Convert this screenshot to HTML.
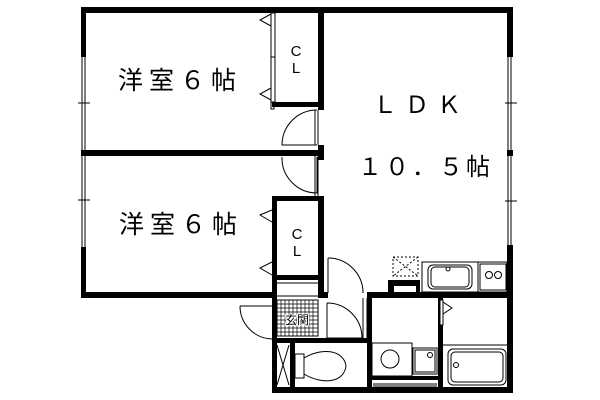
<!DOCTYPE html>
<html><head><meta charset="utf-8"><style>
html,body{margin:0;padding:0;background:#fff;}
svg{display:block}
text{font-family:"Liberation Sans","Noto Sans CJK JP",sans-serif;fill:#000}
</style></head><body>
<svg width="600" height="400" viewBox="0 0 600 400" xmlns="http://www.w3.org/2000/svg">
<g fill="#000">
<rect x="81" y="7" width="432" height="6"/>
<rect x="81" y="7" width="5" height="50"/>
<rect x="81" y="247" width="5" height="50"/>
<rect x="81" y="150" width="5" height="6"/>
<rect x="81" y="150" width="242" height="6"/>
<rect x="81" y="292" width="196" height="6"/>
<rect x="318" y="7" width="6" height="103"/>
<rect x="318" y="145" width="6" height="15"/>
<rect x="318" y="196" width="6" height="102"/>
<rect x="272" y="102" width="52" height="5"/>
<rect x="272" y="196" width="52" height="5"/>
<rect x="272" y="275" width="52" height="5"/>
<rect x="272" y="196" width="5" height="197"/>
<rect x="507" y="7" width="6" height="50"/>
<rect x="507" y="150" width="6" height="6"/>
<rect x="507" y="245" width="6" height="148"/>
<rect x="318" y="292" width="10" height="6"/>
<rect x="367" y="292" width="146" height="6"/>
<rect x="388" y="280" width="32" height="18"/>
<rect x="272" y="338" width="100" height="5"/>
<rect x="367" y="292" width="5" height="101"/>
<rect x="272" y="387" width="241" height="6"/>
<rect x="290" y="343" width="5" height="44"/>
<rect x="438" y="298" width="5" height="95"/>
<rect x="372" y="376" width="66" height="4"/>
</g>
<g fill="#fff">
<rect x="440" y="300" width="3" height="25" stroke="#000" stroke-width="1"/>
<rect x="394" y="286" width="22" height="6"/>
</g>
<g fill="none" stroke="#000" stroke-width="1">
<line x1="82" y1="57" x2="82" y2="247"/><line x1="85" y1="57" x2="85" y2="247"/>
<line x1="78" y1="103" x2="90" y2="103"/><line x1="78" y1="200" x2="90" y2="200"/>
<line x1="508" y1="57" x2="508" y2="245"/><line x1="511" y1="57" x2="511" y2="245"/>
<line x1="505" y1="103" x2="517" y2="103"/><line x1="505" y1="201" x2="517" y2="201"/>
<rect x="271" y="13" width="4" height="89"/>
<line x1="271" y1="57" x2="275" y2="57"/>
<polyline points="271,14 260,20 271,26"/>
<polyline points="271,88 260,94 271,100"/>
<rect x="271" y="102" width="3" height="7"/>
<rect x="273" y="201" width="3" height="74"/>
<polyline points="272,210 260,215 272,222"/>
<polyline points="272,262 260,268 272,275"/>
<line x1="318" y1="110" x2="318" y2="145"/><line x1="315" y1="110" x2="315" y2="145"/>
<path d="M317,110 A35,35 0 0 0 282,145 L317,145"/>
<line x1="318" y1="156" x2="318" y2="196"/><line x1="315" y1="156" x2="315" y2="196"/>
<path d="M282,157 A35,35 0 0 0 317,193 L317,157"/>
<line x1="277" y1="283" x2="318" y2="283"/>
<line x1="277" y1="296" x2="318" y2="296"/>
<line x1="328" y1="258" x2="328" y2="293"/>
<path d="M328,258 A35,35 0 0 1 363,293"/>
<line x1="367" y1="298" x2="367" y2="338"/><line x1="363" y1="298" x2="363" y2="338"/>
<path d="M327,303 A35,35 0 0 1 362,338 L327,338 L327,303"/>
<path d="M240,306 L272,306 M240,306 A33,33 0 0 0 272,339"/>
<rect x="277" y="300" width="41" height="36"/>
<path d="M281,300V336M285,300V336M289,300V336M293,300V336M297,300V336M301,300V336M305,300V336M309,300V336M313,300V336M277,304H318M277,308H318M277,312H318M277,316H318M277,320H318M277,324H318M277,328H318M277,332H318" stroke-width="0.7"/>
<path d="M277,345 L289,385 M289,345 L277,385"/>
<rect x="295" y="354" width="9" height="24"/>
<path d="M304,358 C322,347 344,350 346,366 C344,383 322,385 304,374"/>
<rect x="372" y="343" width="40" height="33"/>
<circle cx="390" cy="359" r="9"/>
<rect x="413" y="348" width="24" height="26"/><rect x="415" y="350" width="20" height="22"/>
<circle cx="430" cy="355" r="2.5"/>
<line x1="373" y1="384" x2="437" y2="384"/><line x1="373" y1="386" x2="437" y2="386"/>
<line x1="443" y1="345" x2="507" y2="345"/>
<rect x="448" y="349" width="58" height="36" rx="5"/>
<rect x="451" y="352" width="52" height="30" rx="4"/>
<circle cx="456" cy="365" r="2.5"/>
<polyline points="443,302 452,308 443,314"/>
<rect x="422" y="262" width="85" height="30"/>
<line x1="478" y1="262" x2="478" y2="292"/>
<rect x="428" y="265" width="44" height="24" rx="5"/><rect x="431" y="267" width="38" height="20" rx="4"/>
<circle cx="448" cy="269" r="2"/>
<rect x="480" y="264" width="26" height="26"/>
<circle cx="489" cy="275" r="3.5"/><circle cx="498" cy="275" r="3.5"/>
<rect x="393" y="257" width="25" height="19" stroke-dasharray="2,2"/>
<path d="M393,257 L418,276 M418,257 L393,276" stroke-dasharray="2,2"/>
</g>
<text x="296" y="56" font-size="15" text-anchor="middle">C</text>
<text x="296" y="73" font-size="15" text-anchor="middle">L</text>
<text x="297" y="239" font-size="15" text-anchor="middle">C</text>
<text x="297" y="256" font-size="15" text-anchor="middle">L</text>
<text x="118" y="89" font-size="25" letter-spacing="6">洋室６帖</text>
<text x="119" y="233" font-size="25" letter-spacing="6">洋室６帖</text>
<text x="373" y="113" font-size="24" letter-spacing="8">ＬＤＫ</text>
<text x="358" y="175" font-size="24" letter-spacing="3">１０．５帖</text>
<text x="297" y="324" font-size="12" text-anchor="middle" style="paint-order:stroke" stroke="#fff" stroke-width="2">玄関</text>
</svg>
</body></html>
